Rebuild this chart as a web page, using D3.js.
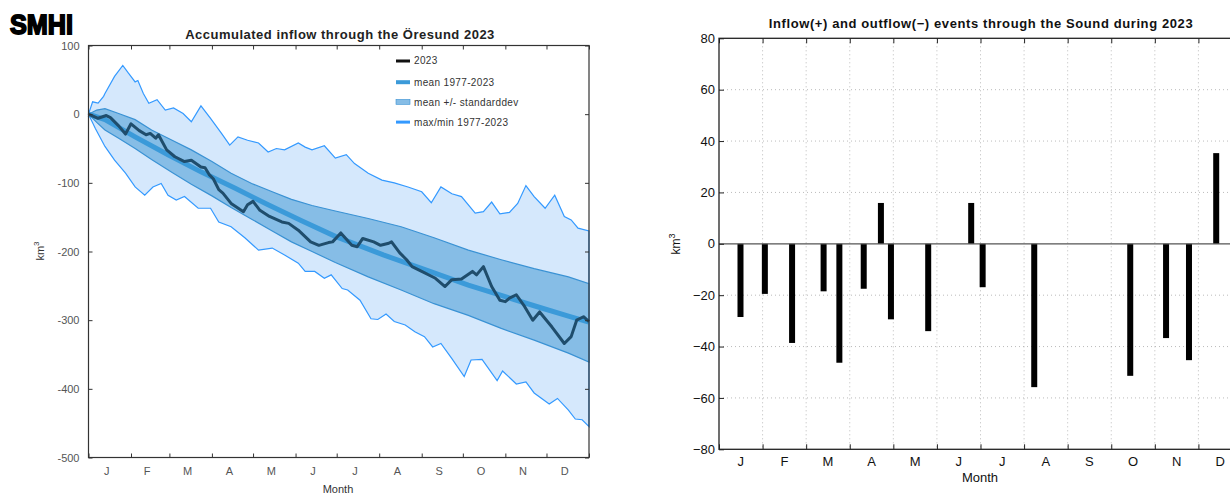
<!DOCTYPE html>
<html>
<head>
<meta charset="utf-8">
<script src="https://cdn.jsdelivr.net/npm/d3@7"></script>
<style>
  body { margin: 0; background: #fff; }
  text { font-family: "Liberation Sans", Arial, sans-serif; }
</style>
</head>
<body>
<div id="chart"></div>
<script>
// month labels and month start days (day of year)
var monthLabels = ["J", "F", "M", "A", "M", "J", "J", "A", "S", "O", "N", "D"];
var monthStart = [0, 31, 59, 90, 120, 151, 181, 212, 243, 273, 304, 334, 365];

// left chart: accumulated inflow, [day, km3]
var maxDays = [0, 3, 7, 11, 12, 19, 25, 29, 34, 36, 40, 44, 50, 56, 62, 69, 75, 82, 89, 97, 103, 109, 116, 124, 131, 137, 143, 153, 158, 163, 172, 180, 188, 194, 204, 214, 223, 233, 243, 250, 257, 265, 272, 282, 288, 294, 300, 307, 313, 319, 325, 333, 340, 347, 352, 357, 365];
var maxValues = [0, 18, 16, 26, 30, 55, 71, 60, 47, 49, 30, 16, 21, 6, 9, 1, -11, 12, -6, -28, -45, -33, -38, -42, -55, -50, -52, -42, -48, -52, -46, -64, -59, -72, -86, -96, -100, -106, -113, -129, -106, -116, -120, -144, -142, -128, -145, -143, -130, -104, -120, -137, -118, -149, -154, -166, -170];

var minDays = [0, 5, 12, 19, 27, 34, 41, 47, 53, 58, 64, 70, 80, 89, 95, 104, 114, 124, 134, 143, 153, 158, 165, 172, 177, 185, 189, 198, 206, 211, 217, 223, 231, 238, 245, 251, 257, 265, 274, 279, 287, 298, 302, 312, 319, 325, 336, 342, 350, 355, 360, 365];
var minValues = [0, -21, -47, -67, -86, -106, -118, -106, -101, -118, -125, -120, -137, -137, -157, -164, -180, -198, -195, -205, -217, -229, -229, -239, -234, -254, -256, -271, -298, -299, -291, -302, -307, -317, -324, -339, -334, -356, -382, -358, -357, -388, -374, -393, -390, -406, -422, -414, -431, -444, -445, -455];

var stdDays = [0, 6, 12, 22, 34, 46, 61, 75, 90, 104, 119, 134, 148, 163, 180, 204, 228, 252, 277, 301, 325, 350, 365];
var stdUpper = [0, 6, 8, 1, -8, -23, -38, -52, -69, -86, -101, -113, -124, -133, -141, -152, -164, -180, -198, -212, -225, -237, -247];
var stdLower = [0, -12, -23, -35, -50, -66, -85, -102, -119, -136, -153, -170, -186, -200, -216, -237, -256, -276, -293, -312, -329, -348, -361];

var meanDays = [0, 12, 34, 58, 82, 107, 131, 155, 180, 215, 249, 277, 301, 325, 350, 365];
var meanValues = [0, -8, -33, -59, -84, -108, -132, -155, -178, -205, -229, -249, -264, -279, -294, -303];

var y2023Days = [0, 7, 13, 16, 22, 27, 31, 37, 42, 45, 49, 51, 57, 63, 70, 75, 82, 85, 88, 91, 95, 98, 104, 113, 116, 120, 125, 132, 141, 146, 153, 162, 168, 175, 178, 184, 192, 196, 200, 208, 213, 219, 221, 227, 232, 236, 243, 253, 260, 265, 272, 280, 283, 288, 294, 300, 304, 307, 312, 318, 324, 329, 338, 347, 352, 356, 361, 365];
var y2023Values = [0, -6, -2, -5, -17, -29, -14, -24, -30, -28, -35, -30, -52, -62, -69, -67, -77, -78, -88, -94, -110, -115, -130, -142, -132, -127, -140, -149, -157, -159, -169, -186, -191, -187, -186, -173, -191, -193, -181, -186, -191, -188, -186, -202, -212, -222, -229, -239, -251, -241, -240, -229, -234, -222, -251, -271, -273, -268, -263, -280, -300, -288, -310, -334, -324, -300, -295, -302];

var leftTicks = [100, 0, -100, -200, -300, -400, -500];

// right chart: inflow/outflow events
var eventDays = [15, 32, 51, 73, 84, 101, 113, 120, 146, 176, 184, 220, 287, 312, 328, 347];
var eventVolumes = [-28.5, -19.5, -38.6, -18.5, -46.3, -17.5, 15.9, -29.4, -34, 15.9, -16.9, -55.8, -51.4, -36.7, -45.3, 35.3];
var rightTicks = [-80, -60, -40, -20, 0, 20, 40, 60, 80];

function zip(days, values) {
  return days.map(function (d, i) {
    return [d, values[i]];
  });
}

var svg = d3
  .select("#chart")
  .append("svg")
  .attr("width", 1230)
  .attr("height", 494);

// SMHI logo
svg
  .append("text")
  .attr("x", 10)
  .attr("y", 34)
  .attr("textLength", 63)
  .attr("lengthAdjust", "spacingAndGlyphs")
  .style("font-weight", "bold")
  .style("font-size", "28px")
  .style("fill", "#000")
  .style("stroke", "#000")
  .style("stroke-width", 1.8)
  .text("SMHI");

// ----------------- left chart -----------------
var xL = d3.scaleLinear().domain([0, 365]).range([88.5, 589]);
var yL = d3.scaleLinear().domain([-500, 100]).range([457.5, 45.5]);
var lineL = d3
  .line()
  .x(function (d) {
    return xL(d[0]);
  })
  .y(function (d) {
    return yL(d[1]);
  });

var left = svg.append("g");

// max/min envelope
var envelope = zip(maxDays, maxValues).concat(zip(minDays, minValues).reverse());
left
  .append("path")
  .attr("d", lineL(envelope) + "Z")
  .attr("fill", "#d5e8fc")
  .attr("stroke", "#3399ff")
  .attr("stroke-width", 1.2);

// mean +/- std band
var band = zip(stdDays, stdUpper).concat(zip(stdDays, stdLower).reverse());
left
  .append("path")
  .attr("d", lineL(band) + "Z")
  .attr("fill", "#86bde6")
  .attr("stroke", "#3a92d4")
  .attr("stroke-width", 1.2);

// mean line
left
  .append("path")
  .attr("d", lineL(zip(meanDays, meanValues)))
  .attr("fill", "none")
  .attr("stroke", "#3b9ad9")
  .attr("stroke-width", 5);

// 2023 line
left
  .append("path")
  .attr("d", lineL(zip(y2023Days, y2023Values)))
  .attr("fill", "none")
  .attr("stroke", "#1f4d6c")
  .attr("stroke-width", 3)
  .attr("stroke-linejoin", "round");

// axes (ticks inside the box)
function styleAxis(g, color) {
  g.select(".domain").remove();
  g.selectAll("line").attr("stroke", color);
  g.selectAll("text").style("font-size", "11px").style("fill", "#555");
}
left
  .append("g")
  .attr("transform", "translate(" + xL.range()[0] + ",0)")
  .call(
    d3
      .axisLeft(yL)
      .tickValues(leftTicks)
      .tickSizeInner(-4)
      .tickSizeOuter(0)
      .tickPadding(9)
      .tickFormat(function (d) {
        return String(d);
      })
  )
  .call(styleAxis, "#333");
left
  .append("g")
  .attr("transform", "translate(" + xL.range()[1] + ",0)")
  .call(d3.axisRight(yL).tickValues(leftTicks).tickSizeInner(-4).tickSizeOuter(0).tickFormat(""))
  .call(styleAxis, "#333");
left
  .append("g")
  .attr("transform", "translate(0," + yL(-500) + ")")
  .call(d3.axisBottom(xL).tickValues(monthStart).tickSizeInner(-4).tickSizeOuter(0).tickFormat(""))
  .call(styleAxis, "#333");
left
  .append("g")
  .attr("transform", "translate(0," + yL(100) + ")")
  .call(d3.axisTop(xL).tickValues(monthStart).tickSizeInner(-4).tickSizeOuter(0).tickFormat(""))
  .call(styleAxis, "#333");

left
  .append("rect")
  .attr("x", xL(0))
  .attr("y", yL(100))
  .attr("width", xL(365) - xL(0))
  .attr("height", yL(-500) - yL(100))
  .attr("fill", "none")
  .attr("stroke", "#333")
  .attr("stroke-width", 1.2);

// month labels
left
  .selectAll(".mlabL")
  .data(monthLabels)
  .enter()
  .append("text")
  .attr("x", function (d, i) {
    return xL((monthStart[i] + monthStart[i + 1]) / 2) - 3;
  })
  .attr("y", 475)
  .attr("text-anchor", "middle")
  .style("font-size", "11px")
  .style("fill", "#555")
  .text(function (d) {
    return d;
  });

left
  .append("text")
  .attr("x", 338)
  .attr("y", 493)
  .attr("text-anchor", "middle")
  .style("font-size", "11px")
  .style("fill", "#333")
  .text("Month");

var kmL = left
  .append("text")
  .attr("transform", "translate(44,251) rotate(-90)")
  .attr("text-anchor", "middle")
  .style("font-size", "11px")
  .style("fill", "#333");
kmL.append("tspan").text("km");
kmL.append("tspan").attr("dy", -5).style("font-size", "8px").text("3");

left
  .append("text")
  .attr("x", 340)
  .attr("y", 39)
  .attr("text-anchor", "middle")
  .style("font-size", "13px")
  .style("letter-spacing", "0.5px")
  .style("font-weight", "bold")
  .style("fill", "#222")
  .text("Accumulated inflow through the Öresund 2023");

// legend
var legendItems = ["2023", "mean 1977-2023", "mean +/- standarddev", "max/min 1977-2023"];
var legend = left
  .selectAll(".legend")
  .data(legendItems)
  .enter()
  .append("g")
  .attr("transform", function (d, i) {
    return "translate(396," + (61 + i * 20.2) + ")";
  });
legend.each(function (d, i) {
  var g = d3.select(this);
  if (i === 0) {
    g.append("rect").attr("x", 0).attr("y", -1.5).attr("width", 14).attr("height", 3).attr("fill", "#111");
  } else if (i === 1) {
    g.append("rect").attr("x", 0).attr("y", -1).attr("width", 14).attr("height", 4).attr("fill", "#3b9ad9");
  } else if (i === 2) {
    g.append("rect").attr("x", 0).attr("y", -2).attr("width", 14).attr("height", 5).attr("fill", "#86bde6").attr("stroke", "#3a92d4").attr("stroke-width", 0.6);
  } else {
    g.append("rect").attr("x", 0).attr("y", -1).attr("width", 14).attr("height", 3).attr("fill", "#3399ff");
  }
  g.append("text")
    .attr("x", 18)
    .attr("y", i === 0 ? -1 : 1)
    .attr("dy", "0.35em")
    .style("font-size", "10px")
    .style("letter-spacing", "0.35px")
    .style("fill", "#333")
    .text(d);
});

// ----------------- right chart -----------------
var xR = d3.scaleLinear().domain([0, 12]).range([719, 1242]);
var yR = d3.scaleLinear().domain([-80, 80]).range([449.3, 38.3]);
var right = svg.append("g");
var monthIdx = d3.range(13);

// dotted grid
right
  .selectAll(".vgrid")
  .data(monthIdx.slice(1, 12))
  .enter()
  .append("line")
  .attr("x1", function (d) {
    return xR(d);
  })
  .attr("x2", function (d) {
    return xR(d);
  })
  .attr("y1", yR(80))
  .attr("y2", yR(-80))
  .attr("stroke", "#aaa")
  .attr("stroke-width", 0.8)
  .attr("stroke-dasharray", "1,3");
right
  .selectAll(".hgrid")
  .data([-60, -40, -20, 20, 40, 60])
  .enter()
  .append("line")
  .attr("x1", xR(0))
  .attr("x2", xR(12))
  .attr("y1", function (d) {
    return yR(d);
  })
  .attr("y2", function (d) {
    return yR(d);
  })
  .attr("stroke", "#aaa")
  .attr("stroke-width", 0.8)
  .attr("stroke-dasharray", "1,3");

// bars
right
  .selectAll(".bar")
  .data(eventDays)
  .enter()
  .append("rect")
  .attr("x", function (d) {
    return xR((d / 365) * 12) - 3;
  })
  .attr("y", function (d, i) {
    return yR(Math.max(0, eventVolumes[i]));
  })
  .attr("width", 6)
  .attr("height", function (d, i) {
    return Math.abs(yR(eventVolumes[i]) - yR(0));
  })
  .attr("fill", "#000");

// zero line
right
  .append("line")
  .attr("x1", xR(0))
  .attr("x2", xR(12))
  .attr("y1", yR(0))
  .attr("y2", yR(0))
  .attr("stroke", "#555")
  .attr("stroke-width", 1.3);

// axes
function styleAxisR(g) {
  g.select(".domain").remove();
  g.selectAll("line").attr("stroke", "#222");
  g.selectAll("text").style("font-size", "13px").style("fill", "#111");
}
right
  .append("g")
  .attr("transform", "translate(" + xR(0) + ",0)")
  .call(d3.axisLeft(yR).tickValues(rightTicks).tickSizeInner(-5).tickSizeOuter(0).tickPadding(4))
  .call(styleAxisR);
right
  .append("g")
  .attr("transform", "translate(0," + yR(-80) + ")")
  .call(d3.axisBottom(xR).tickValues(monthIdx).tickSizeInner(-5).tickSizeOuter(0).tickFormat(""))
  .call(styleAxisR);
right
  .append("g")
  .attr("transform", "translate(0," + yR(80) + ")")
  .call(d3.axisTop(xR).tickValues(monthIdx).tickSizeInner(-5).tickSizeOuter(0).tickFormat(""))
  .call(styleAxisR);

right
  .append("rect")
  .attr("x", xR(0))
  .attr("y", yR(80))
  .attr("width", xR(12) - xR(0))
  .attr("height", yR(-80) - yR(80))
  .attr("fill", "none")
  .attr("stroke", "#222")
  .attr("stroke-width", 1.3);

right
  .selectAll(".mlabR")
  .data(monthLabels)
  .enter()
  .append("text")
  .attr("x", function (d, i) {
    return xR(i + 0.5);
  })
  .attr("y", 466)
  .attr("text-anchor", "middle")
  .style("font-size", "13px")
  .style("fill", "#111")
  .text(function (d) {
    return d;
  });

right
  .append("text")
  .attr("x", 980)
  .attr("y", 482)
  .attr("text-anchor", "middle")
  .style("font-size", "13px")
  .style("fill", "#111")
  .text("Month");

var kmR = right
  .append("text")
  .attr("transform", "translate(680,244) rotate(-90)")
  .attr("text-anchor", "middle")
  .style("font-size", "12px")
  .style("fill", "#111");
kmR.append("tspan").text("km");
kmR.append("tspan").attr("dy", -5).style("font-size", "9px").text("3");

right
  .append("text")
  .attr("x", 981)
  .attr("y", 28)
  .attr("text-anchor", "middle")
  .style("font-size", "13px")
  .style("letter-spacing", "0.6px")
  .style("font-weight", "bold")
  .style("fill", "#111")
  .text("Inflow(+) and outflow(−) events through the Sound during 2023");
</script>
</body>
</html>
